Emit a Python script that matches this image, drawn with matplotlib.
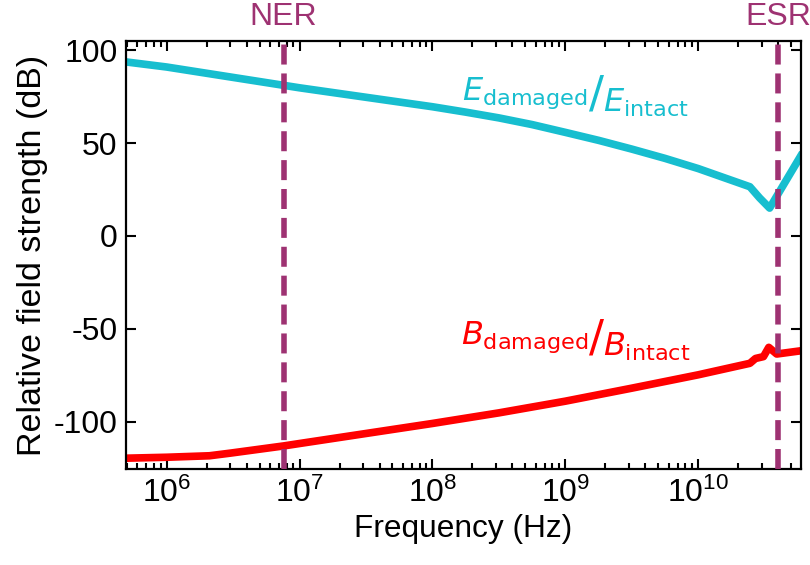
import numpy as np
import matplotlib
matplotlib.use("Agg")
import matplotlib.pyplot as plt
import matplotlib.transforms as mtransforms

# ---------------------------------------------------------------------------
# Data
# ---------------------------------------------------------------------------
freq_e = [5e5, 1e6, 1e7, 1e8, 1.78e8, 3.16e8, 5.62e8, 1e9, 1.78e9, 3.16e9, 5.62e9,
          1e10, 2.45e10, 2.9e10, 3.45e10, 5.9e10]
e_ratio = [93.7, 91.0, 79.8, 69.6, 66.7, 63.6, 60.0, 55.8, 51.5, 46.8, 41.8,
           36.3, 26.5, 20.5, 15.0, 43.0]

freq_b = [5e5, 1e6, 2.1e6, 3e6, 7.6e6, 1e7, 1e8, 3.16e8, 1e9, 3.16e9, 1e10, 2.45e10,
          2.7e10, 3.1e10, 3.4e10, 3.9e10, 6e10]
b_ratio = [-119.7, -119.2, -118.4, -117.0, -113.1, -111.8, -101.0, -95.3, -89.0, -82.0,
           -74.8, -68.6, -66.0, -65.0, -60.0, -63.6, -61.8]

resonances = {"NER": 7.6e6, "ESR": 4.0e10}

# ---------------------------------------------------------------------------
# Style
# ---------------------------------------------------------------------------
plt.rcParams['font.family'] = ['Liberation Sans', 'DejaVu Sans']
plt.rcParams['mathtext.fontset'] = 'dejavusans'
plt.rcParams['axes.unicode_minus'] = False

CYAN = '#17becf'
RED = '#ff0000'
PURPLE = '#9e3272'

fig = plt.figure(figsize=(8.1, 5.65), dpi=100)
ax = fig.add_axes([0.1556, 0.170, 0.8334, 0.7574])

ax.plot(freq_e, e_ratio, color=CYAN, linewidth=5.5, solid_joinstyle='round', zorder=2)
ax.plot(freq_b, b_ratio, color=RED, linewidth=5.5, solid_joinstyle='round', zorder=2)

trans = mtransforms.blended_transform_factory(ax.transData, ax.transAxes)
for name, f in resonances.items():
    ax.axvline(f, color=PURPLE, linewidth=4.0, dashes=(3.6, 1.6), zorder=3)
    ax.text(f, 1.055, name, transform=trans, color=PURPLE, fontsize=23,
            ha='center', va='center')

ax.set_xscale('log')
ax.set_xlim(4.95e5, 5.95e10)
ax.set_ylim(-125.5, 105)
ax.set_yticks([-100, -50, 0, 50, 100])

ax.tick_params(which='both', direction='in', top=True, right=True, width=1.5,
               labelsize=23, pad=6)
ax.tick_params(which='major', length=7)
ax.tick_params(which='minor', length=4)
for s in ax.spines.values():
    s.set_linewidth(1.6)

ax.set_xlabel('Frequency (Hz)', fontsize=22.8, labelpad=4)
ax.set_ylabel('Relative field strength (dB)', fontsize=24.5, labelpad=4)


# ratio labels: X_damaged, a tall slash, then X_intact set a little lower
def ratio_label(field, x, y, color):
    renderer = fig.canvas.get_renderer()
    x0, _ = ax.transData.transform((x, y))
    t1 = ax.text(x, y, rf'${field}_{{\rm damaged}}$', color=color, fontsize=23,
                 ha='left', va='baseline')
    bb1 = t1.get_window_extent(renderer)
    t2 = ax.annotate('/', (x, y), xytext=(bb1.x1 - x0 + 1, -8),
                     textcoords='offset pixels', color=color, fontsize=32,
                     family='DejaVu Sans', ha='left', va='baseline')
    bb2 = t2.get_window_extent(renderer)
    ax.annotate(rf'${field}_{{\rm intact}}$', (x, y), xytext=(bb2.x1 - x0 - 1, -12.5),
                textcoords='offset pixels', color=color, fontsize=23,
                ha='left', va='baseline')


fig.canvas.draw()
ratio_label('E', 1.67e8, 73.5, CYAN)
ratio_label('B', 1.63e8, -57.8, RED)

fig.savefig('out.png', dpi=100)
